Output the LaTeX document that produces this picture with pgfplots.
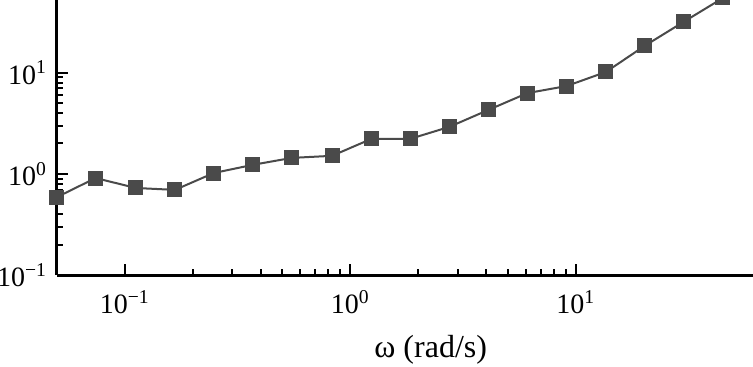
\documentclass[border=0pt]{standalone}
\usepackage{fontspec}
\setmainfont{Liberation Serif}
\usepackage{pgfplots}
\pgfplotsset{compat=1.18}
\definecolor{mk}{HTML}{4A4A4A}
\begin{document}
\begin{tikzpicture}
\begin{axis}[
  at={(0,0)}, anchor=south west,
  scale only axis, width=348pt, height=137.5pt,
  xmode=log, ymode=log,
  xmin=0.0501, xmax=61, ymin=0.1, ymax=52.5,
  axis lines=left, axis line style={-, line width=1.5pt},
  tick align=inside,
  major tick length=5.5pt, minor tick length=3pt,
  every tick/.style={line width=1pt, black},
  xtick={0.1,1,10}, xticklabels={10\textsuperscript{−1},10\textsuperscript{0},10\textsuperscript{1}},
  ytick={0.1,1,10}, yticklabels={10\textsuperscript{−1},10\textsuperscript{0},10\textsuperscript{1}},
  ticklabel style={font=\fontsize{14}{16}\selectfont},
  xticklabel style={yshift=-4pt},
  yticklabel style={xshift=-1.5pt},
  xlabel={ω (rad/s)},
  xlabel style={font=\fontsize{16}{18}\selectfont, at={(axis description cs:0.537,0)}, anchor=base, yshift=-41pt},
  clip=false,
]
\addplot[color=mk, line width=1pt, mark=square*, mark size=3.25pt, mark options={fill=mk, draw=mk}]
coordinates {
(0.0501,0.59) (0.0743,0.91) (0.112,0.726) (0.167,0.695) (0.248,1.02)
(0.37,1.23) (0.55,1.44) (0.83,1.51) (1.24,2.22) (1.84,2.22)
(2.75,2.92) (4.1,4.3) (6.1,6.3) (9.1,7.4) (13.6,10.2)
(20.2,18.5) (30.1,32) (44.9,55)
};
\end{axis}
\pgfresetboundingbox
\path[use as bounding box] (-28.5pt,-45.5pt) rectangle (348pt,137.5pt);
\end{tikzpicture}
\end{document}
